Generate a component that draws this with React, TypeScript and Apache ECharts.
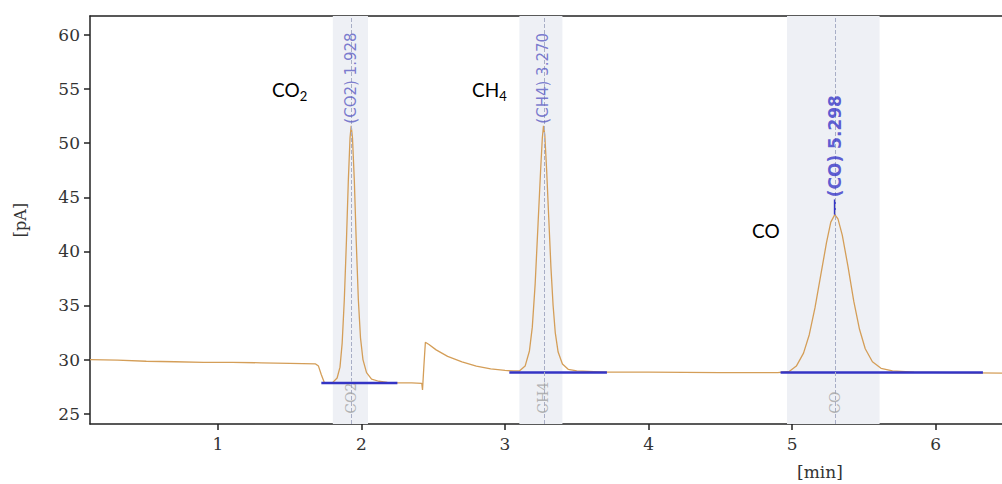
import React, { useEffect, useRef } from "react";
import * as echarts from "echarts";

// Chromatogram trace: retention time [min] and detector signal [pA]
const timeMin = [
  0.108, 0.3, 0.5, 0.7, 0.9, 1.1, 1.3, 1.5, 1.68, 1.7, 1.72, 1.74, 1.77, 1.8,
  1.83, 1.85, 1.865, 1.88, 1.895, 1.908, 1.92, 1.928, 1.937, 1.95, 1.963, 1.978, 1.993, 2.01, 2.035,
  2.07, 2.12, 2.18, 2.25, 2.35, 2.42, 2.425, 2.435, 2.445, 2.47, 2.52, 2.6, 2.7, 2.8, 2.9, 3.0,
  3.06, 3.1, 3.14, 3.17, 3.19, 3.21, 3.23, 3.248, 3.26, 3.268, 3.277, 3.29, 3.305, 3.32, 3.335, 3.35,
  3.37, 3.4, 3.44, 3.5, 3.7, 4.0, 4.5, 4.9,
  4.98, 5.03, 5.08, 5.12, 5.16, 5.2, 5.24, 5.27, 5.298, 5.32, 5.35, 5.39, 5.43, 5.47, 5.51, 5.56,
  5.62, 5.7, 5.85, 6.1, 6.463,
];
const signalPA = [
  30.0, 29.95, 29.85, 29.8, 29.75, 29.75, 29.7, 29.65, 29.6, 29.4, 28.6, 27.9, 27.85, 27.9,
  28.3, 29.3, 31.5, 35.5, 41.0, 46.5, 50.5, 51.6, 50.5, 46.5, 41.0, 35.5, 32.0, 30.0, 28.8,
  28.2, 28.0, 27.9, 27.85, 27.85, 27.8, 27.2, 29.5, 31.6, 31.4, 30.9, 30.3, 29.8, 29.4, 29.15, 29.0,
  28.95, 28.95, 29.4, 30.8, 33.0, 37.0, 42.5, 47.5, 50.5, 51.6, 50.8, 47.5, 43.0, 38.5, 35.0, 32.5,
  30.7, 29.6, 29.1, 28.95, 28.85, 28.85, 28.8, 28.8,
  28.9, 29.4, 30.6, 32.3, 34.8, 37.8, 40.8, 42.7, 43.4, 43.0, 41.5, 38.6, 35.4, 32.8, 31.0, 29.8,
  29.2, 28.95, 28.85, 28.8, 28.75,
];

// Identified peaks
const peakNames = ["CO2", "CH4", "CO"];
const peakTimes = [1.928, 3.268, 5.298];
const peakApex = [51.6, 51.6, 43.4];
const peakLabels = ["(CO2) 1.928", "(CH4) 3.270", "(CO) 5.298"];
const peakLabelStart = [51.8, 51.8, 45.0];
const windowStart = [1.8, 3.1, 4.965];
const windowEnd = [2.045, 3.4, 5.61];
const baselineStart = [1.72, 3.03, 4.92];
const baselineEnd = [2.25, 3.71, 6.33];
const baselineLevel = [27.85, 28.8, 28.8];

// Axes
const xTicks = [1, 2, 3, 4, 5, 6];
const yTicks = [25, 30, 35, 40, 45, 50, 55, 60];
const xMin = 0.108;
const xMax = 6.463;
const yMin = 24.05;
const yMax = 61.75;

const TICK_FONT = "DejaVu Serif";

export default function App() {
  const ref = useRef<HTMLDivElement>(null);

  useEffect(() => {
    if (!ref.current) return;
    const chart = echarts.init(ref.current, undefined, { renderer: "svg" });

    const curve = timeMin.map((t, i) => [t, signalPA[i]]);

    const baselineSeries = baselineStart.map((s, i) => ({
      type: "line",
      data: [
        [s, baselineLevel[i]],
        [baselineEnd[i], baselineLevel[i]],
      ],
      showSymbol: false,
      lineStyle: { color: "#3434c4", width: 2.5 },
      z: 4,
      silent: true,
    }));

    const option: any = {
      animation: false,
      backgroundColor: "#ffffff",
      grid: { left: 90, right: 0, top: 16, bottom: 60 },
      xAxis: [
        {
          type: "value",
          min: xMin,
          max: xMax,
          axisLine: { show: true, onZero: false, lineStyle: { color: "#222", width: 1.5 } },
          axisTick: {
            show: true,
            length: 6,
            customValues: xTicks,
            lineStyle: { color: "#222", width: 1.5 },
          },
          axisLabel: {
            customValues: xTicks,
            fontFamily: TICK_FONT,
            fontSize: 17,
            color: "#333",
            margin: 11,
          },
          splitLine: { show: false },
        },
        {
          type: "value",
          position: "top",
          min: xMin,
          max: xMax,
          axisLine: { show: true, onZero: false, lineStyle: { color: "#222", width: 1.5 } },
          axisTick: { show: false },
          axisLabel: { show: false },
          splitLine: { show: false },
        },
      ],
      yAxis: {
        type: "value",
        min: yMin,
        max: yMax,
        name: "[pA]",
        nameLocation: "middle",
        nameGap: 62,
        nameRotate: 90,
        nameTextStyle: { fontFamily: TICK_FONT, fontSize: 16, color: "#333" },
        axisLine: { show: true, onZero: false, lineStyle: { color: "#222", width: 1.5 } },
        axisTick: {
          show: true,
          length: 6,
          customValues: yTicks,
          lineStyle: { color: "#222", width: 1.5 },
        },
        axisLabel: {
          customValues: yTicks,
          fontFamily: TICK_FONT,
          fontSize: 17,
          color: "#333",
          margin: 10,
        },
        splitLine: { show: false },
      },
      series: [
        {
          type: "line",
          data: [],
          z: 1,
          silent: true,
          markArea: {
            silent: true,
            itemStyle: { color: "#eef0f5" },
            data: windowStart.map((s, i) => [{ xAxis: s }, { xAxis: windowEnd[i] }]),
          },
          markLine: {
            silent: true,
            symbol: ["none", "none"],
            label: { show: false },
            lineStyle: { type: "dashed", color: "#a8aec6", width: 1 },
            data: peakTimes.map((t) => ({ xAxis: t })),
          },
        },
        {
          type: "line",
          data: curve,
          showSymbol: false,
          lineStyle: { color: "#d49e58", width: 1.3 },
          z: 3,
          silent: true,
        },
        ...baselineSeries,
        {
          type: "line",
          data: [
            [peakTimes[2], peakApex[2]],
            [peakTimes[2], peakLabelStart[2] - 0.2],
          ],
          showSymbol: false,
          lineStyle: { color: "#3434c4", width: 2 },
          z: 4,
          silent: true,
        },
        {
          type: "scatter",
          symbolSize: 0,
          z: 5,
          silent: true,
          data: peakTimes.map((t, i) => ({
            value: [t, peakLabelStart[i]],
            label: {
              show: true,
              formatter: peakLabels[i],
              position: "inside",
              rotate: 90,
              align: "left",
              verticalAlign: "middle",
              fontFamily: "DejaVu Sans",
              fontWeight: i === 2 ? "bold" : "normal",
              fontSize: i === 2 ? 17 : 15,
              color: i === 2 ? "#3636c8" : "#5c5cc4",
            },
          })),
        },
        {
          type: "scatter",
          symbolSize: 0,
          z: 5,
          silent: true,
          data: peakTimes.map((t, i) => ({
            value: [t, 25.0],
            label: {
              show: true,
              formatter: peakNames[i],
              position: "inside",
              rotate: 90,
              align: "left",
              verticalAlign: "middle",
              fontFamily: "DejaVu Serif",
              fontSize: 14,
              color: "#a2a2a2",
            },
          })),
        },
      ],
      graphic: [
        {
          type: "text",
          x: 272,
          y: 76,
          style: {
            text: "{m|CO}{s|2}",
            rich: {
              m: { fontSize: 19, fontFamily: "Lato", fill: "#000", lineHeight: 26, verticalAlign: "middle" },
              s: { fontSize: 13, fontFamily: "Lato", fill: "#000", lineHeight: 26, verticalAlign: "bottom" },
            },
          },
        },
        {
          type: "text",
          x: 472,
          y: 76,
          style: {
            text: "{m|CH}{s|4}",
            rich: {
              m: { fontSize: 19, fontFamily: "Lato", fill: "#000", lineHeight: 26, verticalAlign: "middle" },
              s: { fontSize: 13, fontFamily: "Lato", fill: "#000", lineHeight: 26, verticalAlign: "bottom" },
            },
          },
        },
        {
          type: "text",
          x: 752,
          y: 230,
          style: {
            text: "CO",
            fontSize: 19,
            fontFamily: "Lato",
            fill: "#000",
            verticalAlign: "middle",
          },
        },
        {
          type: "text",
          x: 797,
          y: 463,
          style: {
            text: "[min]",
            fontSize: 17,
            fontFamily: TICK_FONT,
            fill: "#333",
            verticalAlign: "top",
          },
        },
      ],
    };

    chart.setOption(option);
    return () => chart.dispose();
  }, []);

  return (
    <div
      ref={ref}
      style={{ position: "absolute", left: 0, top: 0, width: 1002, height: 484 }}
    />
  );
}
